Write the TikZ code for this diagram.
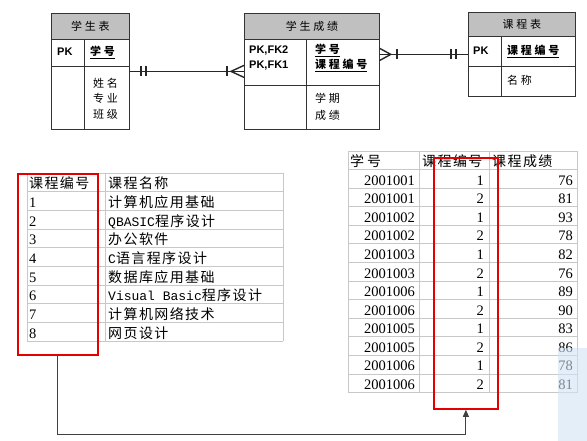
\documentclass[tikz,border=0pt]{standalone}
\usepackage{fontspec}
\setmainfont{Liberation Sans}
\newfontfamily\cjkfam[LetterSpace=10]{Noto Sans CJK SC}
\newfontfamily\cjkboxfam[LetterSpace=25]{Noto Sans CJK SC}
\newfontfamily\monofam{Liberation Mono}
\newfontfamily\numfam{Liberation Serif}
\newcommand\cjk{\cjkfam\fontsize{14}{16}\selectfont}
\newcommand\mono{\monofam\fontsize{13}{14}\selectfont}
\newcommand\numfont{\numfam\fontsize{14.5}{16}\selectfont}
\newcommand\erfont{\cjkboxfam\fontsize{11}{12}\selectfont}
\usetikzlibrary{arrows.meta, positioning, calc}
\definecolor{hdrgray}{HTML}{C0C0C0}
\definecolor{tabgray}{HTML}{C8C8C8}
\definecolor{selblue}{HTML}{D0E3F5}

\begin{document}
\begin{tikzpicture}[x=1pt, y=-1pt,
    erbox/.style={rectangle, draw=black!80, line width=0.8pt, anchor=north west, inner sep=0pt},
    erhead/.style={erbox, fill=hdrgray, font=\erfont},
    erline/.style={draw=black!80, line width=0.8pt},
    rel/.style={line width=1.4pt, black!85},
    keytext/.style={font=\fontsize{11}{12}\selectfont\bfseries, anchor=base west, inner sep=0pt},
    attr/.style={font=\erfont, anchor=base west, inner sep=0pt},
    tabline/.style={draw=tabgray, line width=0.8pt},
    cell/.style={anchor=base west, inner sep=0pt, font=\cjk},
    num/.style={anchor=base east, inner sep=0pt, font=\numfont},
    selbox/.style={rectangle, draw=red!90!black, line width=1.8pt, anchor=north west, inner sep=0pt},
    link/.style={-{Triangle[length=7pt, width=6pt]}, line width=0.9pt, black!75}
]
\useasboundingbox (0,0) rectangle (587,441);

% Entity: student
\node[erbox, minimum width=78, minimum height=116] (stu) at (51,13) {};
\node[erhead, minimum width=78, minimum height=26] (stuh) at (51,13) {学生表};
\draw[erline] ($(stu.north west)+(0,53)$) -- ($(stu.north east)+(0,53)$);
\draw[erline] ($(stuh.south west)+(33,0)$) -- ($(stu.south west)+(33,0)$);
\node[keytext] (stupk) at (57,56) {PK};
\node[attr] (stukey) at (90,56) {\bfseries\underline{学号}};
\node[attr] (stua1) at (93,88) {姓名};
\node[attr] (stua2) at (93,103) {专业};
\node[attr] (stua3) at (93,119) {班级};

% Entity: score
\node[erbox, minimum width=135, minimum height=116] (score) at (244,13) {};
\node[erhead, minimum width=135, minimum height=26] (scoreh) at (244,13) {学生成绩};
\draw[erline] ($(score.north west)+(0,72)$) -- ($(score.north east)+(0,72)$);
\draw[erline] ($(scoreh.south west)+(62,0)$) -- ($(score.south west)+(62,0)$);
\node[keytext] (scorepk1) at (249,54) {PK,FK2};
\node[keytext] (scorepk2) at (249,69) {PK,FK1};
\node[attr] (scorekey1) at (315,54) {\bfseries\underline{学号}};
\node[attr] (scorekey2) at (315,69) {\bfseries\underline{课程编号}};
\node[attr] (scorea1) at (315,103) {学期};
\node[attr] (scorea2) at (315,120) {成绩};

% Entity: course
\node[erbox, minimum width=107, minimum height=84] (cou) at (468,12) {};
\node[erhead, minimum width=107, minimum height=24] (couh) at (468,12) {课程表};
\draw[erline] ($(cou.north west)+(0,54)$) -- ($(cou.north east)+(0,54)$);
\draw[erline] ($(couh.south west)+(33,0)$) -- ($(cou.south west)+(33,0)$);
\node[keytext] (coupk) at (473,55) {PK};
\node[attr] (coukey) at (507,55) {\bfseries\underline{课程编号}};
\node[attr] (coua1) at (507,85) {名称};

% Relationships
\draw[rel] (stu.east) -- (score.west);
\draw[rel] ($(stu.east)+(11,-5)$) -- ++(0,10);
\draw[rel] ($(stu.east)+(16,-5)$) -- ++(0,10);
\draw[rel] ($(score.west)+(-17,-5)$) -- ++(0,10);
\draw[rel] ($(score.west)+(0,-6)$) -- ($(score.west)+(-13,0)$) -- ($(score.west)+(0,6)$);

\draw[rel] (score.east |- cou.west) -- (cou.west);
\draw[rel] ($(score.east |- cou.west)+(0,-6)$) -- ($(score.east |- cou.west)+(11,0)$) -- ($(score.east |- cou.west)+(0,6)$);
\draw[rel] ($(score.east |- cou.west)+(17,-5)$) -- ++(0,10);
\draw[rel] ($(cou.west)+(-17,-5)$) -- ++(0,10);
\draw[rel] ($(cou.west)+(-12,-5)$) -- ++(0,10);

% Course table
\foreach \i in {0,...,9}
  \draw[tabline] (27,{173+18.67*\i}) -- (283,{173+18.67*\i});
\foreach \x in {27,105,283}
  \draw[tabline] (\x,173) -- (\x,341);
\node[cell] (cno0) at (29,{173+18.67-3}) {课程编号};
\node[cell] (cname0) at (108,{173+18.67-3}) {课程名称};
\foreach \no/\name [count=\i] in {1/{计算机应用基础}, 2/{\mono QBASIC\cjk 程序设计},
    3/{办公软件}, 4/{\mono C\cjk 语言程序设计}, 5/{数据库应用基础},
    6/{\mono Visual Basic\cjk 程序设计}, 7/{计算机网络技术}, 8/{网页设计}} {
  \node[cell, font=\numfont] (cno\i) at (29,{173+18.67*(\i+1)-3}) {\no};
  \node[cell] (cname\i) at (108,{173+18.67*(\i+1)-3}) {\name};
}

% Score table
\foreach \i in {0,...,13}
  \draw[tabline] (348,{151+18.58*\i}) -- (577,{151+18.58*\i});
\foreach \x in {348,419,489,577}
  \draw[tabline] (\x,151) -- (\x,392.5);
\node[cell] (rsid0) at (350,{151+18.58-3}) {学\hspace{3pt}号};
\node[cell] (rcno0) at (422,{151+18.58-3}) {课程编号};
\node[cell] (rscore0) at (492,{151+18.58-3}) {课程成绩};
\foreach \sid/\cno/\sc [count=\i] in {2001001/1/76, 2001001/2/81, 2001002/1/93,
    2001002/2/78, 2001003/1/82, 2001003/2/76, 2001006/1/89, 2001006/2/90,
    2001005/1/83, 2001005/2/86, 2001006/1/78, 2001006/2/81} {
  \node[num] (rsid\i) at (415,{151+18.58*(\i+1)-3}) {\sid};
  \node[num] (rcno\i) at (484,{151+18.58*(\i+1)-3}) {\cno};
  \node[num] (rscore\i) at (573,{151+18.58*(\i+1)-3}) {\sc};
}

% Selected key columns
\node[selbox, minimum width=80, minimum height=181] (selL) at (17,173) {};
\node[selbox, minimum width=64, minimum height=251] (selR) at (433,157) {};
\draw[link] (selL.south) -- ++(0,79) -| (selR.south);

\fill[selblue, fill opacity=0.6] (558,348) rectangle (587,441);
\end{tikzpicture}
\end{document}
